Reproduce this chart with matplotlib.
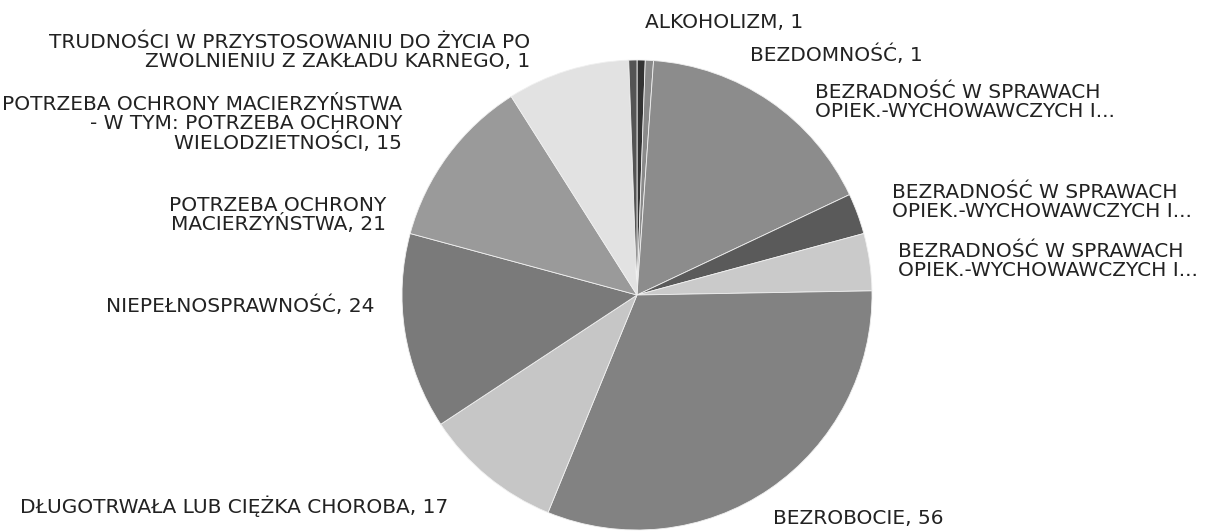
#!/usr/bin/env python3
# -*- coding: utf-8 -*-

import matplotlib
matplotlib.use('Agg')
import matplotlib.pyplot as plt

labels = [
    'ALKOHOLIZM',
    'BEZDOMNOŚĆ',
    'BEZRADNOŚĆ W SPRAWACH\nOPIEK.-WYCHOWAWCZYCH I...',
    'BEZRADNOŚĆ W SPRAWACH\nOPIEK.-WYCHOWAWCZYCH I...',
    'BEZRADNOŚĆ W SPRAWACH\nOPIEK.-WYCHOWAWCZYCH I...',
    'BEZROBOCIE',
    'DŁUGOTRWAŁA LUB CIĘŻKA CHOROBA',
    'NIEPEŁNOSPRAWNOŚĆ',
    'POTRZEBA OCHRONY\nMACIERZYŃSTWA',
    'POTRZEBA OCHRONY MACIERZYŃSTWA\n- W TYM: POTRZEBA OCHRONY\nWIELODZIETNOŚCI',
    'TRUDNOŚCI W PRZYSTOSOWANIU DO ŻYCIA PO\nZWOLNIENIU Z ZAKŁADU KARNEGO',
]
values = [1, 1, 30, 5, 7, 56, 17, 24, 21, 15, 1]
# whether the value is printed after the label (the cut "I..." ones have none)
show_value = [True, True, False, False, False, True, True, True, True, True, True]
grays = ['#333333', '#8a8a8a', '#8c8c8c', '#5a5a5a', '#cacaca', '#828282',
         '#c6c6c6', '#7a7a7a', '#9a9a9a', '#e2e2e2', '#545454']

# label anchor points in pixels of the 1216x532 picture, and alignment
label_px = [(645, 22), (750, 55), (815, 102), (892, 202), (898, 261),
            (773, 518), (20, 506), (375, 306), (386, 215), (402, 124),
            (530, 52)]
label_ha = ['left', 'left', 'left', 'left', 'left', 'left', 'left',
            'right', 'right', 'right', 'right']

W, H = 1216, 532
cx, cy, r = 637, 295, 235

fig = plt.figure(figsize=(W / 100, H / 100), dpi=100)
fig.patch.set_facecolor('white')
ax = fig.add_axes([(cx - r) / W, (H - cy - r) / H, 2 * r / W, 2 * r / H])
ax.pie(values, colors=grays, startangle=90, counterclock=False, radius=1,
       wedgeprops=dict(linewidth=0.6, edgecolor='#f0f0f0'))
ax.set_xlim(-1, 1)
ax.set_ylim(-1, 1)
ax.set_aspect('equal')
ax.axis('off')

for lab, v, sv, (px, py), ha in zip(labels, values, show_value, label_px, label_ha):
    txt = lab + (', %d' % v if sv else '')
    ax.text((px - cx) / r, (cy - py) / r, txt, ha=ha, va='center',
            multialignment=ha, fontsize=14.5, color='#222222',
            family='DejaVu Sans', linespacing=0.97, clip_on=False)

fig.savefig('out.png', dpi=100, facecolor='white')
